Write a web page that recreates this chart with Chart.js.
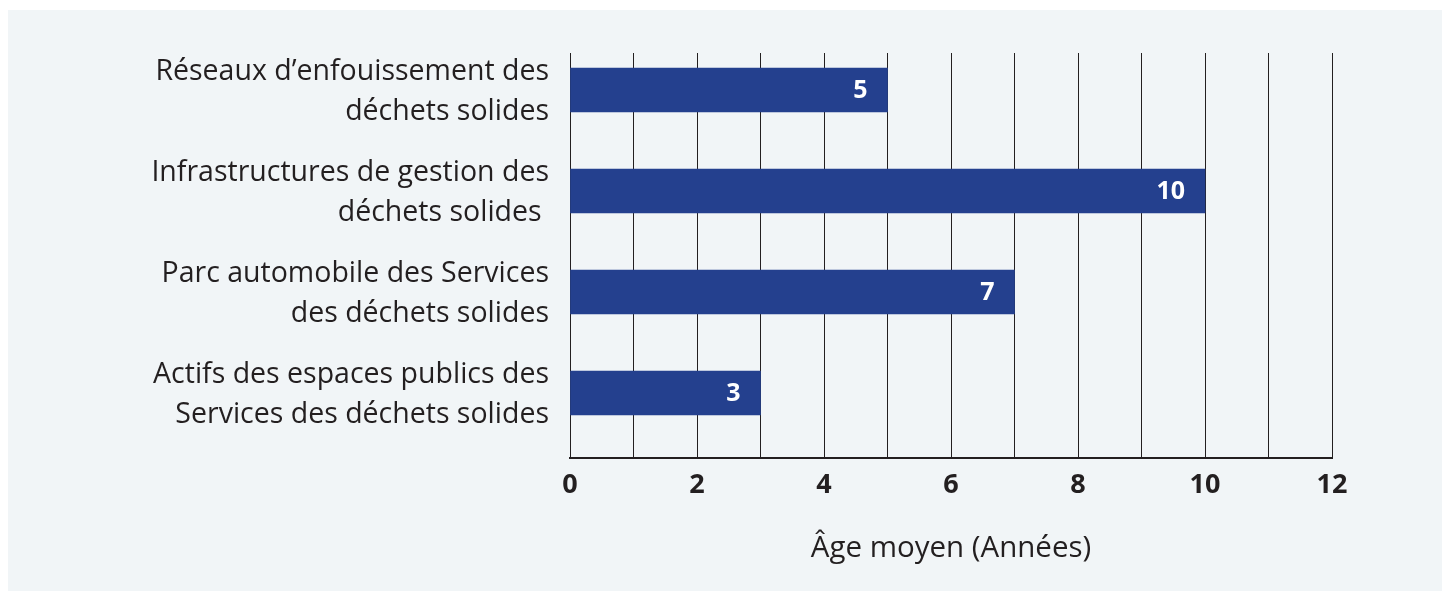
<!DOCTYPE html>
<html><head><meta charset="utf-8">
<script src="https://cdn.jsdelivr.net/npm/chart.js@4.4.1/dist/chart.umd.min.js"></script>
<style>
html,body{margin:0;padding:0;background:#ffffff;width:1442px;height:591px;overflow:hidden}
#panel{position:absolute;left:8px;top:10px;width:1434px;height:581px;background:#f1f5f7}
canvas{display:block}
</style></head><body>
<div id="panel"><canvas id="c" width="1434" height="581"></canvas></div>
<script>
const categories = [
  ["Réseaux d’enfouissement des", "déchets solides"],
  ["Infrastructures de gestion des", "déchets solides "],
  ["Parc automobile des Services", "des déchets solides"],
  ["Actifs des espaces publics des", "Services des déchets solides"]
];
const values = [5, 10, 7, 3];
const xTickLabels = ["0", "2", "4", "6", "8", "10", "12"];
const xTitle = "Âge moyen (Années)";

const FONT = "'Open Sans', 'Noto Sans', sans-serif";
const INK = "#231f20";

const points = values.map((v, i) => ({x: v, y: i}));

const valueLabels = {
  id: 'valueLabels',
  afterDatasetsDraw(chart) {
    const ctx = chart.ctx;
    const meta = chart.getDatasetMeta(0);
    ctx.save();
    ctx.fillStyle = '#ffffff';
    ctx.font = "bold 25px " + FONT;
    ctx.textAlign = 'right';
    ctx.textBaseline = 'middle';
    meta.data.forEach((el, i) => {
      ctx.fillText(String(values[i]), el.x - 20, el.y + 1);
    });
    ctx.restore();
  }
};

new Chart(document.getElementById('c'), {
  type: 'bar',
  data: {
    datasets: [{
      data: points,
      backgroundColor: '#24408e',
      borderWidth: 0,
      barThickness: 44
    }]
  },
  options: {
    indexAxis: 'y',
    responsive: false,
    animation: false,
    events: [],
    layout: {padding: {left: 0, right: 110, top: 43, bottom: 0}},
    plugins: {legend: {display: false}, tooltip: {enabled: false}},
    scales: {
      x: {
        type: 'linear',
        min: 0, max: 12,
        grid: {color: INK, lineWidth: 1, drawTicks: false},
        border: {display: true, color: INK, width: 2},
        ticks: {
          stepSize: 1,
          autoSkip: false,
          maxRotation: 0,
          padding: 11,
          color: INK,
          font: {family: FONT, size: 27, weight: 'bold'},
          callback: (v) => (v % 2 === 0 ? xTickLabels[v / 2] : '')
        },
        title: {
          display: true,
          text: xTitle,
          color: INK,
          font: {family: FONT, size: 29.5},
          padding: {top: 0, bottom: 25}
        },
        afterFit: (s) => { s.height = 133; s.paddingLeft = 0; s.paddingRight = 0; }
      },
      y: {
        type: 'linear',
        reverse: true,
        offset: false,
        min: -0.366,
        max: 3.644,
        grid: {display: false, drawTicks: false, offset: false},
        border: {display: false},
        ticks: {
          stepSize: 1,
          includeBounds: false,
          autoSkip: false,
          padding: 21,
          labelOffset: 2,
          color: INK,
          font: {family: FONT, size: 28.5, lineHeight: 1.39},
          callback: (v) => (Number.isInteger(v) && categories[v] ? categories[v] : '')
        },
        afterFit: (s) => { s.width = 562; s.paddingTop = 0; s.paddingBottom = 0; }
      }
    }
  },
  plugins: [valueLabels]
});
</script>
</body></html>
